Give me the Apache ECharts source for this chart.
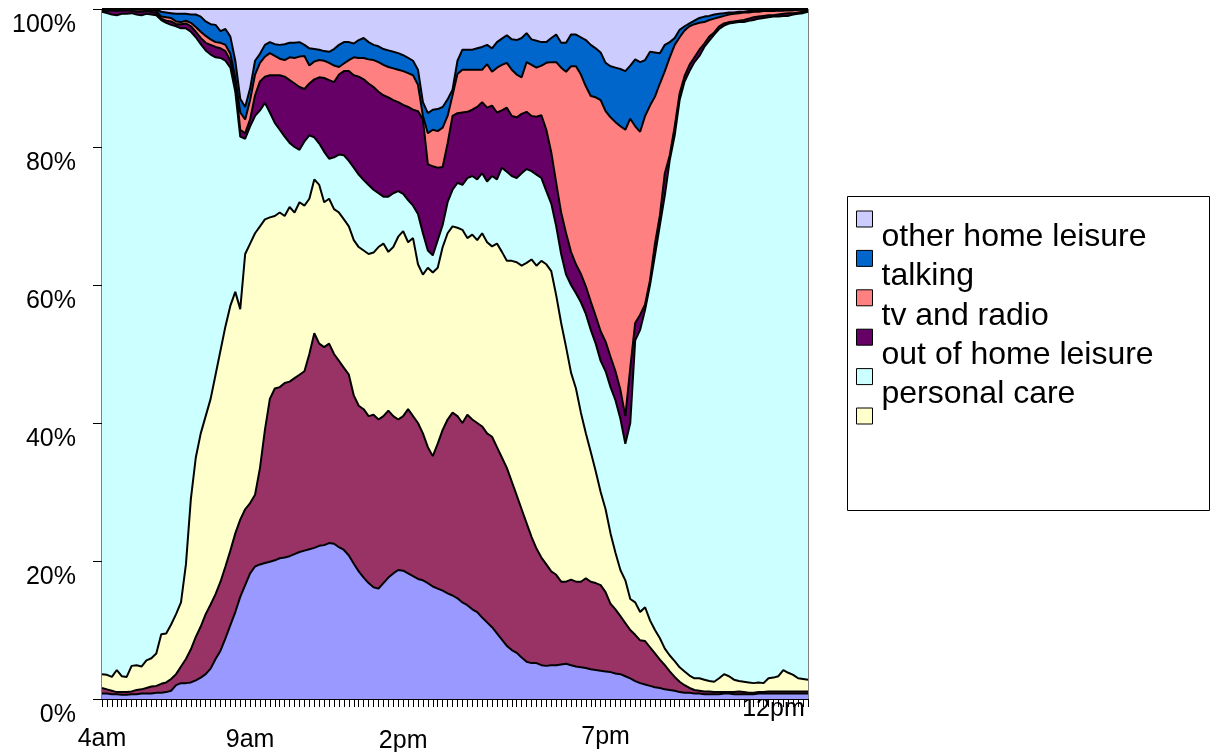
<!DOCTYPE html>
<html>
<head>
<meta charset="utf-8">
<script src="https://cdn.jsdelivr.net/npm/echarts@6.0.0/dist/echarts.min.js"></script>
<style>
html,body{margin:0;padding:0;background:#fff;}
#chart{width:1211px;height:752px;}
</style>
</head>
<body>
<div id="chart"></div>
<script>
// x categories: 144 ten-minute slots, labelled as in the picture
const timeLabels = [
  '4am','','','','','','','','','','','',
  '','','','','','','','','','','','',
  '','','','','','','9am','','','','','',
  '','','','','','','','','','','','',
  '','','','','','','','','','','','',
  '','2pm','','','','','','','','','','',
  '','','','','','','','','','','','',
  '','','','','','','','','','','','',
  '','','','','','','7pm','','','','','',
  '','','','','','','','','','','','',
  '','','','','','','','','','','','',
  '','','','','12pm','','','','','','',''
];

// upper edge (cumulative %) of each layer
const otherHomeLeisureTop = [
  100,100,100,100,100,100,100,100,100,100,100,100,
  100,100,100,100,100,100,100,100,100,100,100,100,
  100,100,100,100,100,100,100,100,100,100,100,100,
  100,100,100,100,100,100,100,100,100,100,100,100,
  100,100,100,100,100,100,100,100,100,100,100,100,
  100,100,100,100,100,100,100,100,100,100,100,100,
  100,100,100,100,100,100,100,100,100,100,100,100,
  100,100,100,100,100,100,100,100,100,100,100,100,
  100,100,100,100,100,100,100,100,100,100,100,100,
  100,100,100,100,100,100,100,100,100,100,100,100,
  100,100,100,100,100,100,100,100,100,100,100,100,
  100,100,100,100,100,100,100,100,100,100,100,100
];
const talkingTop = [
  100,100,100,100,100,100,100,100,100,100,100,99.9,
  99.6,99.5,99.4,99.3,99.3,99.3,99.2,99.2,98.9,98.2,97.8,97.7,
  96.8,97.1,96.0,92.5,87.0,85.8,88.5,92.5,93.5,94.8,95.2,94.9,
  94.8,94.9,95.1,95.1,95.2,94.8,94.3,94.2,94.1,93.9,93.8,94.2,
  94.8,95.2,95.2,95.0,95.5,95.8,95.2,94.8,94.6,94.2,94.0,93.8,
  93.6,93.3,92.9,92.5,91.2,86.5,84.9,85.4,85.5,85.8,86.9,88.3,
  92.5,94.1,94.1,94.1,94.3,94.5,94.8,94.3,95.2,95.7,96.2,95.6,
  95.5,95.8,96.5,95.6,95.4,95.2,95.2,95.8,96.3,95.1,95.1,96.3,
  96.3,95.9,95.5,94.8,94.3,93.7,92.2,91.7,91.5,91.3,91.0,91.8,
  92.7,92.3,92.6,93.8,93.7,93.6,94.8,95.2,95.8,97.0,97.5,97.9,
  98.3,98.7,98.9,99.0,99.2,99.3,99.4,99.5,99.5,99.6,99.6,99.7,
  99.7,99.7,99.8,99.8,99.8,99.8,99.8,99.9,99.9,99.9,99.9,99.9
];
const tvRadioTop = [
  99.9,99.9,99.9,99.9,99.9,99.9,99.9,99.9,99.9,99.9,99.8,99.7,
  98.9,98.8,98.7,98.2,98.1,98.3,98.0,97.4,96.7,96.1,95.6,95.2,
  95.1,94.8,93.5,90.0,85.0,84.0,86.8,90.5,92.2,93.1,93.6,93.2,
  92.8,92.6,93.0,92.9,93.1,93.2,91.8,92.4,92.6,92.5,92.2,91.8,
  91.6,92.1,92.6,93.0,92.9,92.9,92.7,92.6,92.3,91.9,91.6,91.4,
  91.2,91.0,90.7,90.4,89.0,84.5,82.0,82.5,82.3,82.8,84.5,87.5,
  90.6,91.2,91.2,91.2,91.2,91.2,92.0,90.9,91.5,91.9,92.2,91.2,
  90.5,90.1,92.3,91.9,91.5,91.8,92.2,92.3,92.3,91.5,90.9,91.7,
  91.7,90.5,88.8,87.4,87.2,86.8,85.2,84.3,83.6,83.0,82.5,84.1,
  83.0,82.2,84.5,86.0,87.3,89.2,91.0,93.0,94.8,95.9,96.9,97.5,
  97.8,98.0,98.1,98.4,98.6,98.8,99.0,99.2,99.3,99.4,99.5,99.5,
  99.6,99.6,99.7,99.7,99.7,99.8,99.8,99.8,99.8,99.9,99.9,99.9
];
const outOfHomeTop = [
  99.8,99.7,99.8,99.7,99.8,99.8,99.7,99.6,99.6,99.7,99.6,99.4,
  98.6,98.3,98.2,97.8,97.8,97.9,97.5,96.7,95.8,95.1,94.8,94.5,
  94.3,93.9,92.5,89.5,82.5,82.0,84.0,87.5,89.5,90.2,90.4,90.4,
  90.4,90.2,89.7,89.2,88.7,88.4,89.2,89.8,90.1,90.0,89.7,89.4,
  90.5,91.0,91.0,90.4,90.2,89.8,89.2,88.7,88.0,87.5,87.2,86.8,
  86.5,86.1,85.8,85.4,85.2,84.0,77.5,77.2,77.0,77.1,80.5,84.5,
  84.9,85.0,85.1,85.4,85.8,86.5,85.7,86.0,85.0,85.3,85.7,84.5,
  84.3,84.8,85.1,84.5,84.4,84.6,82.5,79.2,74.8,70.5,67.5,64.8,
  63.0,61.6,59.8,57.6,55.5,53.3,51.8,49.6,47.5,44.8,41.0,48.0,
  54.5,55.7,57.2,60.7,66.0,70.1,76.2,78.8,83.0,87.8,90.3,91.9,
  93.0,94.1,95.0,96.0,96.6,97.5,97.9,98.1,98.2,98.3,98.4,98.6,
  98.8,98.9,99.0,99.1,99.1,99.2,99.3,99.4,99.4,99.5,99.6,99.7
];
const personalCareTop = [
  99.6,99.4,99.2,99.1,99.3,99.3,99.4,99.2,99.1,99.3,99.2,99.1,
  98.4,98.0,97.7,97.5,97.2,97.2,96.7,95.9,94.9,94.0,93.4,93.0,
  92.9,92.5,91.5,88.0,81.5,81.2,83.0,84.5,85.3,86.4,85.0,83.5,
  82.5,81.5,80.6,80.0,79.6,80.8,81.7,81.4,80.5,79.3,78.3,78.5,
  78.9,78.8,78.0,77.0,76.0,75.2,74.5,73.8,73.3,72.8,72.8,73.3,
  73.6,73.2,72.3,71.5,70.3,67.5,65.0,64.3,66.5,68.7,72.0,73.8,
  74.8,74.5,75.5,75.8,75.3,76.2,75.0,75.8,75.3,77.0,76.4,75.8,
  75.5,76.2,76.8,76.5,76.0,75.5,73.6,71.8,68.5,64.5,61.5,60.0,
  58.8,57.5,55.8,53.5,51.5,49.0,47.5,45.2,43.3,40.6,37.0,40.0,
  52.0,53.5,56.4,60.0,64.3,68.7,73.0,78.1,81.7,86.8,89.5,91.0,
  92.3,93.2,94.5,95.4,96.3,97.1,97.6,97.9,98.0,98.1,98.1,98.3,
  98.4,98.6,98.7,98.8,98.9,98.9,99.0,99.0,99.2,99.3,99.4,99.6
];
const series3Top = [
  3.6,3.5,3.2,4.2,3.3,3.2,4.8,4.9,4.7,5.6,5.9,6.6,
  9.4,9.5,10.8,12.3,14.0,19.5,29.0,35.0,38.5,41.0,43.5,47.0,
  50.5,54.0,57.0,59.0,56.5,64.5,66.0,67.5,68.5,69.5,69.8,70.0,
  70.5,70.0,71.3,70.5,72.0,71.5,72.5,75.3,74.5,72.0,72.5,71.0,
  70.5,69.5,68.5,66.5,65.5,65.0,64.5,64.7,65.5,66.0,64.8,65.5,
  67.0,67.8,66.2,66.8,63.0,61.5,62.5,61.8,62.5,65.5,67.5,68.5,
  68.3,68.0,66.8,67.3,66.5,67.5,66.2,65.6,66.0,64.8,63.5,63.5,
  63.3,62.8,63.2,63.7,62.8,63.5,63.0,62.0,58.5,54.5,51.0,47.3,
  45.0,41.5,38.5,35.8,33.0,30.0,27.5,24.0,21.2,18.7,17.2,14.5,
  14.0,12.6,13.3,11.4,10.0,8.8,7.3,6.3,5.5,4.6,4.0,3.4,
  3.0,3.0,2.8,2.6,2.5,3.0,3.6,3.3,2.8,2.6,2.5,2.4,
  2.3,2.4,2.3,3.0,3.1,3.3,4.2,3.8,3.5,3.0,2.9,2.8
];
const series2Top = [
  1.6,1.4,1.2,1.0,1.0,1.0,1.1,1.3,1.4,1.6,1.8,1.9,
  2.2,2.4,2.9,3.6,4.7,5.8,7.2,9.0,10.5,12.3,13.7,15.2,
  17.0,19.2,21.5,24.0,26.0,27.5,28.4,29.6,33.5,39.0,43.5,45.0,
  45.2,45.8,46.0,46.5,47.0,47.5,50.0,53.0,51.5,51.0,51.5,50.0,
  49.0,48.0,47.0,44.0,42.5,42.0,41.0,41.2,40.5,41.0,41.8,41.0,
  40.5,41.0,42.0,41.0,40.0,38.5,36.5,35.2,37.0,39.0,40.5,41.5,
  41.0,40.0,41.2,40.5,40.0,39.5,38.5,38.0,36.5,35.0,33.5,31.5,
  29.5,27.5,25.5,23.5,21.8,20.5,19.5,18.5,18.0,17.0,17.0,17.3,
  17.0,17.0,17.5,17.0,16.8,16.5,15.5,13.8,13.0,12.0,11.0,10.0,
  9.3,8.5,8.4,7.5,6.6,5.7,4.9,4.0,3.2,2.5,2.0,1.6,
  1.3,1.2,1.1,1.1,1.0,1.0,1.0,1.0,1.0,1.1,1.0,0.9,
  0.9,1.0,1.0,1.1,1.1,1.1,1.1,1.1,1.1,1.1,1.1,1.1
];
const series1Top = [
  0.8,0.8,0.7,0.7,0.6,0.6,0.7,0.7,0.8,0.8,0.8,0.9,
  0.9,1.0,1.2,2.0,2.3,2.3,2.4,2.7,3.1,3.6,4.4,5.8,
  7.0,8.8,10.7,12.6,14.8,16.5,18.2,19.2,19.5,19.7,19.9,20.1,
  20.4,20.5,20.7,21.0,21.3,21.5,21.7,21.9,22.2,22.3,22.6,22.5,
  22.0,21.6,20.8,19.6,18.5,17.6,16.8,16.2,16.0,16.8,17.6,18.2,
  18.7,18.6,18.2,17.8,17.4,17.2,16.8,16.3,16.0,15.7,15.3,15.0,
  14.6,14.0,13.6,13.0,12.6,11.8,11.1,10.4,9.5,8.6,7.7,7.1,
  6.7,6.0,5.4,5.2,5.2,4.9,4.8,4.9,4.9,5.0,5.1,4.9,
  4.7,4.6,4.5,4.3,4.2,4.1,4.0,3.9,3.7,3.6,3.3,3.0,
  2.6,2.3,2.1,1.9,1.7,1.6,1.4,1.3,1.2,1.0,0.9,0.9,
  0.8,0.8,0.7,0.7,0.7,0.7,0.8,0.8,0.7,0.7,0.7,0.7,
  0.7,0.8,0.8,0.8,0.8,0.8,0.8,0.8,0.8,0.8,0.8,0.8
];

const seriesNames = ['other home leisure','talking','tv and radio','out of home leisure','personal care','Series3','Series2','Series1'];
const seriesColors = ['#CCCCFF','#0066CC','#FF8080','#660066','#CCFFFF','#FFFFCC','#993366','#9999FF'];
const seriesEdges = [otherHomeLeisureTop, talkingTop, tvRadioTop, outOfHomeTop, personalCareTop, series3Top, series2Top, series1Top];
const legendNames = ['other home leisure','talking','tv and radio','out of home leisure','personal care','Series3'];
const legendTextHidden = ['Series3'];

const FONT = '"Liberation Sans", Arial, Helvetica, sans-serif';
const richKey = {'4am': 'a', '9am': 'b', '2pm': 'c', '7pm': 'd', '12pm': 'e'};
function richStyle(pad) {
  return {fontSize: 25, fontFamily: FONT, color: '#000', lineHeight: 20, padding: [pad, 0, 0, 0]};
}

const chart = echarts.init(document.getElementById('chart'), null, {renderer: 'canvas'});
const option = {
  animation: false,
  backgroundColor: '#ffffff',
  textStyle: {fontFamily: FONT},
  grid: {left: 102, top: 9, width: 706, height: 690, show: true, borderColor: '#000', borderWidth: 1,
         containLabel: false, outerBoundsMode: 'none'},
  xAxis: {
    type: 'category', data: timeLabels, boundaryGap: false,
    axisLine: {show: true, lineStyle: {color: '#000', width: 1}},
    axisTick: {show: true, interval: 0, length: 8, lineStyle: {color: '#000', width: 1}},
    splitLine: {show: false},
    axisLabel: {
      interval: 0, margin: 0, color: '#000', fontSize: 25, fontFamily: FONT, lineHeight: 20,
      formatter: function (v) { return v ? '{' + richKey[v] + '|' + v + '}' : ''; },
      rich: {a: richStyle(60), b: richStyle(62), c: richStyle(64), d: richStyle(56), e: richStyle(0)}
    }
  },
  yAxis: {
    type: 'value', min: 0, max: 100, interval: 20,
    axisLine: {show: true, lineStyle: {color: '#000', width: 1}},
    axisTick: {show: true, length: 9, lineStyle: {color: '#000', width: 1}},
    splitLine: {show: false},
    axisLabel: {formatter: '{value}%', color: '#000', fontSize: 25, fontFamily: FONT, margin: 26,
                verticalAlign: 'top', lineHeight: 25, padding: [4, 0, 0, 0]}
  },
  graphic: [{type: 'rect', z: 0, silent: true, shape: {x: 847.5, y: 196.5, width: 362, height: 314},
             style: {fill: '#fff', stroke: '#000', lineWidth: 1}}],
  legend: {
    orient: 'vertical', left: 856, top: 183, padding: 0,
    itemWidth: 16, itemHeight: 16, itemGap: -32.6, icon: 'rect',
    itemStyle: {borderColor: '#000', borderWidth: 1},
    selectedMode: false,
    data: legendNames,
    formatter: function (n) { return '\n' + (legendTextHidden.indexOf(n) >= 0 ? ' ' : n); },
    textStyle: {fontSize: 32, lineHeight: 36, color: '#000', fontFamily: FONT, padding: [0, 0, 0, 4]}
  },
  series: seriesNames.map(function (name, k) {
    return {
      type: 'line', name: name, data: seriesEdges[k],
      symbol: 'none', showSymbol: false, smooth: false, silent: true,
      itemStyle: {color: seriesColors[k]},
      lineStyle: {color: '#000', width: 2},
      areaStyle: {color: seriesColors[k], opacity: 1},
      emphasis: {disabled: true}
    };
  })
};
chart.setOption(option);
</script>
</body>
</html>
